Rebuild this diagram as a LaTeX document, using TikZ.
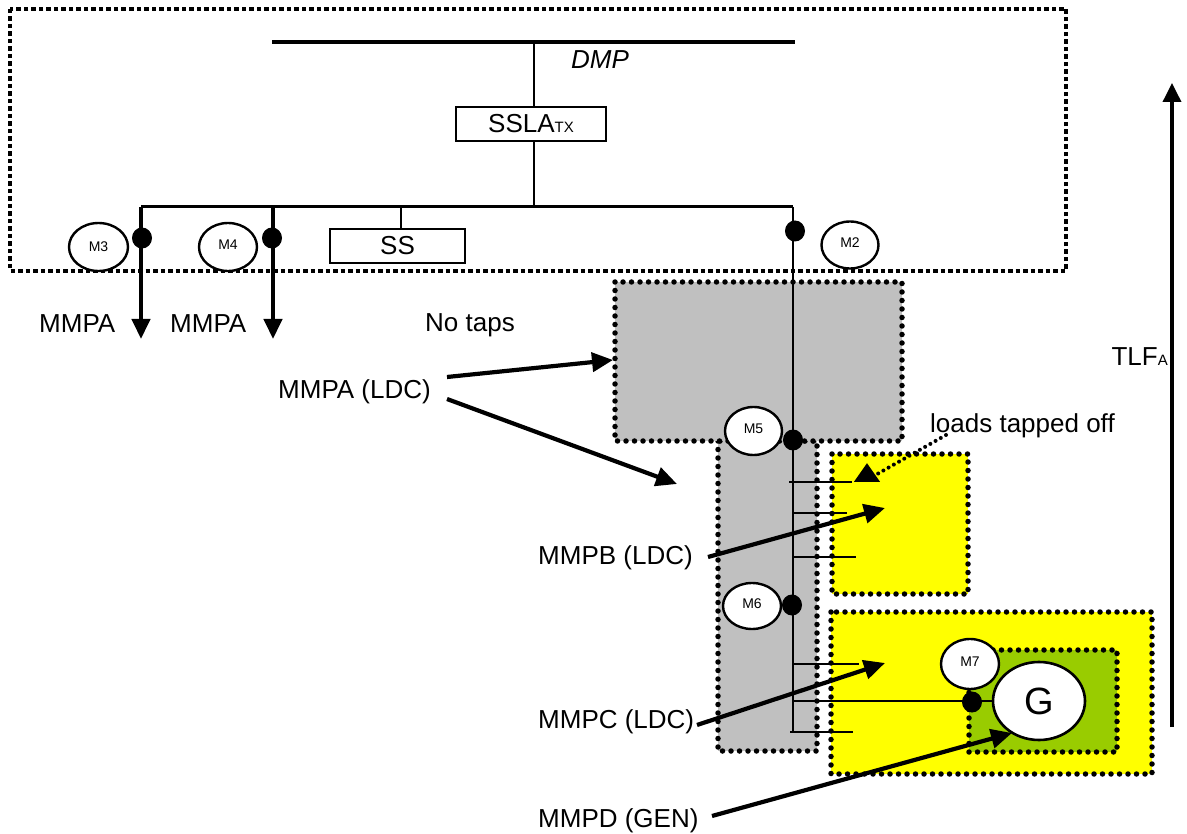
\documentclass[tikz,border=0pt]{standalone}
\usepackage{fontspec}
\setmainfont{Liberation Sans}
\usetikzlibrary{shapes.geometric,arrows.meta}
\definecolor{grayfill}{HTML}{C0C0C0}
\definecolor{yel}{HTML}{FFFF00}
\definecolor{grn}{HTML}{99CC00}
\begin{document}
\begin{tikzpicture}[x=1pt,y=-1pt,
 outerbox/.style={line width=4.5pt, dash pattern=on 4.5pt off 3pt},
 dotbox/.style={line width=5.5pt, dash pattern=on 0pt off 8.5pt, line cap=round},
 lbl/.style={font=\fontsize{26}{30}\selectfont, inner sep=0pt},
 mnode/.style={draw, ellipse, line width=2.4pt, fill=white, inner sep=0pt, font=\fontsize{14}{16}\selectfont},
 jdot/.style={fill=black, ellipse, inner sep=0pt, minimum width=20pt, minimum height=21pt},
 rbox/.style={draw, line width=2.4pt, fill=white, inner sep=0pt, font=\fontsize{26}{30}\selectfont},
 bigarrow/.style={line width=4.2pt, -{Triangle[length=21pt,width=19pt]}},
 downarrow/.style={line width=4.2pt, -{Triangle[length=20pt,width=18pt]}},
 tapline/.style={line width=1.5pt},
]
\useasboundingbox (0,0) rectangle (1187,834);

% shaded regions
\fill[grayfill] (718,441) rectangle (817,751);
\draw[dotbox] (718,441) rectangle (817,751);
\fill[grayfill] (615,282) rectangle (902,441);
\draw[dotbox] (615,282) rectangle (902,441);
\fill[yel] (832,454) rectangle (968,594);
\draw[dotbox] (832,454) rectangle (968,594);
\fill[yel] (831,612) rectangle (1152,774);
\draw[dotbox] (831,612) rectangle (1152,774);
\fill[grn] (969,650) rectangle (1117,752);
\draw[dotbox] (969,650) rectangle (1117,752);

% outer DMP box
\draw[outerbox] (10,9) rectangle (1066,271);

% DMP bus and transformer
\coordinate (busL) at (272,42);
\coordinate (busR) at (795,42);
\draw[line width=4.5pt] (busL) -- (busR);
\node[lbl, anchor=base west, font=\fontsize{26}{30}\selectfont\itshape] (dmp) at (571,69) {DMP};
\node[rbox, minimum width=150pt, minimum height=34pt] (ssla) at (531,124)
  {SSLA{\fontsize{15}{15}\selectfont TX}};
\coordinate (sslaTop) at (534,42);
\coordinate (sslaBot) at (534,207);
\draw[line width=2.4pt] (sslaTop) -- (sslaTop |- ssla.north);
\draw[line width=2.4pt] (sslaBot |- ssla.south) -- (sslaBot);

% lower bus
\coordinate (lbL) at (141,207);
\coordinate (lbM4) at (273,207);
\coordinate (lbSS) at (401,207);
\coordinate (lbR) at (793,207);
\draw[line width=3pt] (lbL) -- (lbR);
\node[rbox, minimum width=135pt, minimum height=34pt] (ss) at (397.5,246) {SS};
\draw[line width=2.4pt] (lbSS) -- (lbSS |- ss.north);

% feeders to MMPA
\coordinate (m3tip) at (141,339);
\coordinate (m4tip) at (273,339);
\draw[downarrow] (lbL) -- (m3tip);
\draw[downarrow] (lbM4) -- (m4tip);
\node[jdot] (d3) at (142,238) {};
\node[jdot] (d4) at (272,238) {};
\node[mnode, minimum width=59pt, minimum height=48pt] (m3) at (98.5,247) {M3};
\node[mnode, minimum width=58pt, minimum height=48pt] (m4) at (228,247) {\raisebox{5pt}{M4}};
\node[lbl, anchor=base west] (mmpa1) at (39,333) {MMPA};
\node[lbl, anchor=base west] (mmpa2) at (170,333) {MMPA};
\node[lbl, anchor=base west] (notaps) at (425,332) {No taps};

% main feeder line
\coordinate (feedEnd) at (793,732);
\draw[tapline] (lbR) -- (feedEnd);
\node[jdot] (d2) at (795,231) {};
\node[mnode, minimum width=57pt, minimum height=47pt] (m2) at (850,245) {\raisebox{5pt}{M2}};

% taps
\coordinate (t1a) at (789,482); \coordinate (t1b) at (852,482);
\coordinate (t2a) at (792,513); \coordinate (t2b) at (847,513);
\coordinate (t3a) at (792,557); \coordinate (t3b) at (856,557);
\coordinate (t4a) at (792,664); \coordinate (t4b) at (859,664);
\coordinate (t5a) at (790,732); \coordinate (t5b) at (853,732);
\coordinate (t6a) at (792,701);
\draw[tapline] (t1a) -- (t1b);
\draw[tapline] (t2a) -- (t2b);
\draw[tapline] (t3a) -- (t3b);
\draw[tapline] (t4a) -- (t4b);
\draw[tapline] (t5a) -- (t5b);

% generator
\node[draw, ellipse, line width=2.6pt, fill=white, inner sep=0pt, minimum width=92pt, minimum height=78pt,
      font=\fontsize{38}{40}\selectfont] (g) at (1039,701) {G};
\draw[tapline] (t6a) -- (g.west);

% meters along the feeder
\node[jdot] (d5) at (793,440) {};
\node[mnode, minimum width=57pt, minimum height=48pt] (m5) at (753.5,431) {\raisebox{5pt}{M5}};
\node[jdot] (d6) at (792,605) {};
\node[mnode, minimum width=58pt, minimum height=46pt] (m6) at (752,606) {\raisebox{5pt}{M6}};
\node[jdot] (d7) at (972,702) {};
\node[mnode, minimum width=58pt, minimum height=50pt] (m7) at (970,664) {\raisebox{5pt}{M7}};

% labels and arrows
\node[lbl, anchor=base west] (mmpaldc) at (278,399) {MMPA (LDC)};
\node[lbl, anchor=base west] (mmpbldc) at (538,564) {MMPB (LDC)};
\node[lbl, anchor=base west] (mmpcldc) at (538,728) {MMPC (LDC)};
\node[lbl, anchor=base west] (mmpdgen) at (538,827) {MMPD (GEN)};
\coordinate (a1s) at (447,377); \coordinate (a1e) at (613,360);
\coordinate (a2s) at (447,399); \coordinate (a2e) at (677,484);
\coordinate (bs) at (708,557);  \coordinate (be) at (885,508);
\coordinate (cs) at (697,725);  \coordinate (ce) at (885,663);
\coordinate (ds) at (712,816);  \coordinate (de) at (1012,733);
\draw[bigarrow] (a1s) -- (a1e);
\draw[bigarrow] (a2s) -- (a2e);
\draw[bigarrow] (bs) -- (be);
\draw[bigarrow] (cs) -- (ce);
\draw[bigarrow] (ds) -- (de);

% loads tapped off
\node[lbl, anchor=base west] (loads) at (930,432) {loads tapped off};
\node[fill=black, isosceles triangle, isosceles triangle apex angle=70, shape border rotate=90,
      inner sep=0pt, minimum width=26pt, minimum height=17pt] (loadtip) at (867,475) {};
\coordinate (loadsStart) at (946,435);
\draw[line width=4pt, dash pattern=on 0pt off 6pt, line cap=round] (loadsStart) -- (loadtip.east);

% TLF arrow
\coordinate (tlfBot) at (1172,727);
\coordinate (tlfTop) at (1172,83);
\draw[line width=3.6pt, -{Triangle[length=19pt,width=18pt]}] (tlfBot) -- (tlfTop);
\node[lbl, anchor=base east] (tlf) at (1168,366) {TLF{\fontsize{15}{15}\selectfont A}};
\end{tikzpicture}
\end{document}
